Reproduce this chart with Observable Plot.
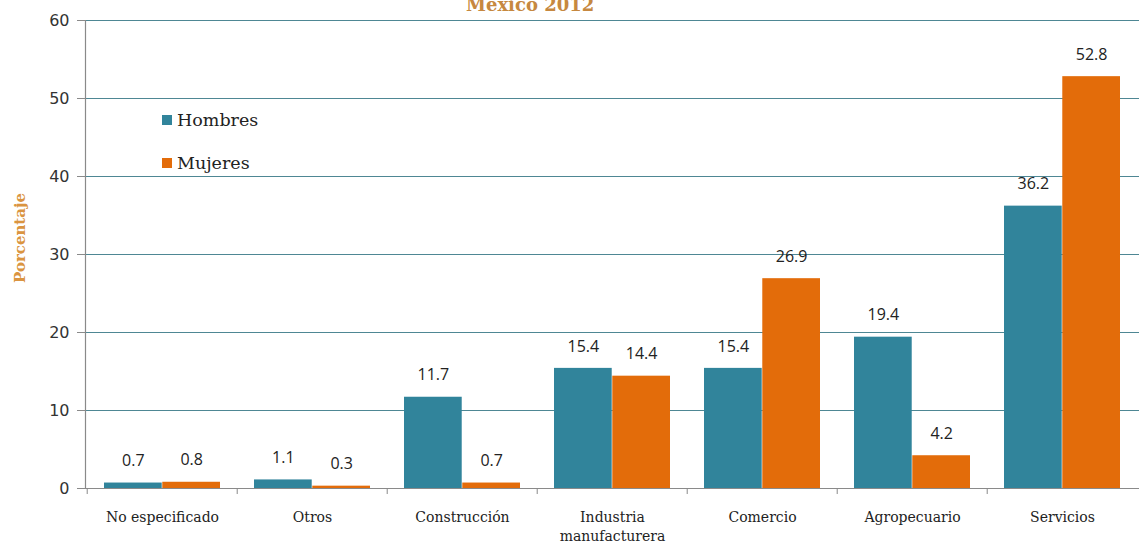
<!DOCTYPE html>
<html>
<head>
<meta charset="utf-8">
<script src="https://cdn.jsdelivr.net/npm/d3@7"></script>
<script src="https://cdn.jsdelivr.net/npm/@observablehq/plot@0.6"></script>
<style>
  html, body { margin: 0; padding: 0; background: #fff; }
  #wrap { position: relative; width: 1139px; height: 545px; overflow: hidden; }
  #title { position: absolute; left: 466px; top: -6px; font-family: "DejaVu Serif", serif; font-weight: bold; font-size: 18px; color: #C68840; white-space: nowrap; }
  #ylabel { position: absolute; left: 20px; top: 238px; transform: translate(-50%, -50%) rotate(-90deg); font-family: "DejaVu Serif", serif; font-weight: bold; font-size: 15px; color: #DA9440; white-space: nowrap; }
  .leg { position: absolute; left: 162px; display: flex; align-items: center; font-family: "DejaVu Serif", serif; font-size: 17.5px; color: #222; white-space: nowrap; }
  .leg span.sw { display: inline-block; width: 10px; height: 10px; margin-right: 5px; }
  svg { position: absolute; left: 0; top: 0; }
</style>
</head>
<body>
<div id="wrap"></div>
<script>
const categories = ["No especificado", "Otros", "Construcción", "Industria\nmanufacturera", "Comercio", "Agropecuario", "Servicios"];
const hombres = [0.7, 1.1, 11.7, 15.4, 15.4, 19.4, 36.2];
const mujeres = [0.8, 0.3, 0.7, 14.4, 26.9, 4.2, 52.8];
const seriesNames = ["Hombres", "Mujeres"];
const seriesColors = ["#31849B", "#E36C0A"];
const yTicks = [0, 10, 20, 30, 40, 50, 60];
const titleText = "México 2012";
const yLabel = "Porcentaje";

const W = 1139, H = 545;
const mL = 85, mR = 0, mT = 20, mB = 57;
const bw = (W - mL - mR) / categories.length;
const outer = 17;
const barW = (bw - 2 * outer) / 2;
const off = bw / 2 - outer - barW / 2;

const rowsH = categories.map((c, i) => ({cat: c, v: hombres[i]}));
const rowsM = categories.map((c, i) => ({cat: c, v: mujeres[i]}));

const chart = Plot.plot({
  width: W, height: H,
  marginLeft: mL, marginRight: mR, marginTop: mT, marginBottom: mB,
  x: {type: "band", domain: categories, padding: 0, axis: null},
  y: {domain: [0, 60], axis: null},
  marks: [
    Plot.gridY(yTicks.filter(t => t > 0), {stroke: "#4E8794", strokeOpacity: 1, strokeWidth: 1.2}),
    Plot.barY(rowsH, {x: "cat", y: "v", fill: seriesColors[0], insetLeft: outer, insetRight: outer + barW}),
    Plot.barY(rowsM, {x: "cat", y: "v", fill: seriesColors[1], insetLeft: outer + barW, insetRight: outer}),
    Plot.ruleY([0], {stroke: "#8a8a8a", strokeWidth: 1.2}),
    Plot.ruleX(categories, {x: d => d, dx: -bw / 2, y1: 0, insetBottom: -6, stroke: "#8a8a8a"}),
    Plot.frame({anchor: "left", stroke: "#8a8a8a", strokeWidth: 1.2}),
    Plot.text(rowsH, {x: "cat", y: "v", text: d => d.v.toFixed(1), dx: -off, dy: -22, fontFamily: "Open Sans", fontSize: 16, fill: "#222"}),
    Plot.text(rowsM, {x: "cat", y: "v", text: d => d.v.toFixed(1), dx: off, dy: -22, fontFamily: "Open Sans", fontSize: 16, fill: "#222"}),
    Plot.axisY(yTicks, {tickSize: 8, tickPadding: 8, fontFamily: "DejaVu Sans", fontSize: 16, color: "#333", stroke: "#8a8a8a", label: null}),
    Plot.axisX({tickSize: 0, tickPadding: 20, fontFamily: "DejaVu Serif", fontSize: 14, lineHeight: 1.35, color: "#222", label: null})
  ]
});

const wrap = document.getElementById("wrap");
wrap.appendChild(chart);

const t = document.createElement("div");
t.id = "title"; t.textContent = titleText; wrap.appendChild(t);

const yl = document.createElement("div");
yl.id = "ylabel"; yl.textContent = yLabel; wrap.appendChild(yl);

const legTops = [110, 153];
seriesNames.forEach((name, i) => {
  const d = document.createElement("div");
  d.className = "leg";
  d.style.top = legTops[i] + "px";
  const sw = document.createElement("span");
  sw.className = "sw"; sw.style.background = seriesColors[i];
  d.appendChild(sw);
  d.appendChild(document.createTextNode(name));
  wrap.appendChild(d);
});
</script>
</body>
</html>
